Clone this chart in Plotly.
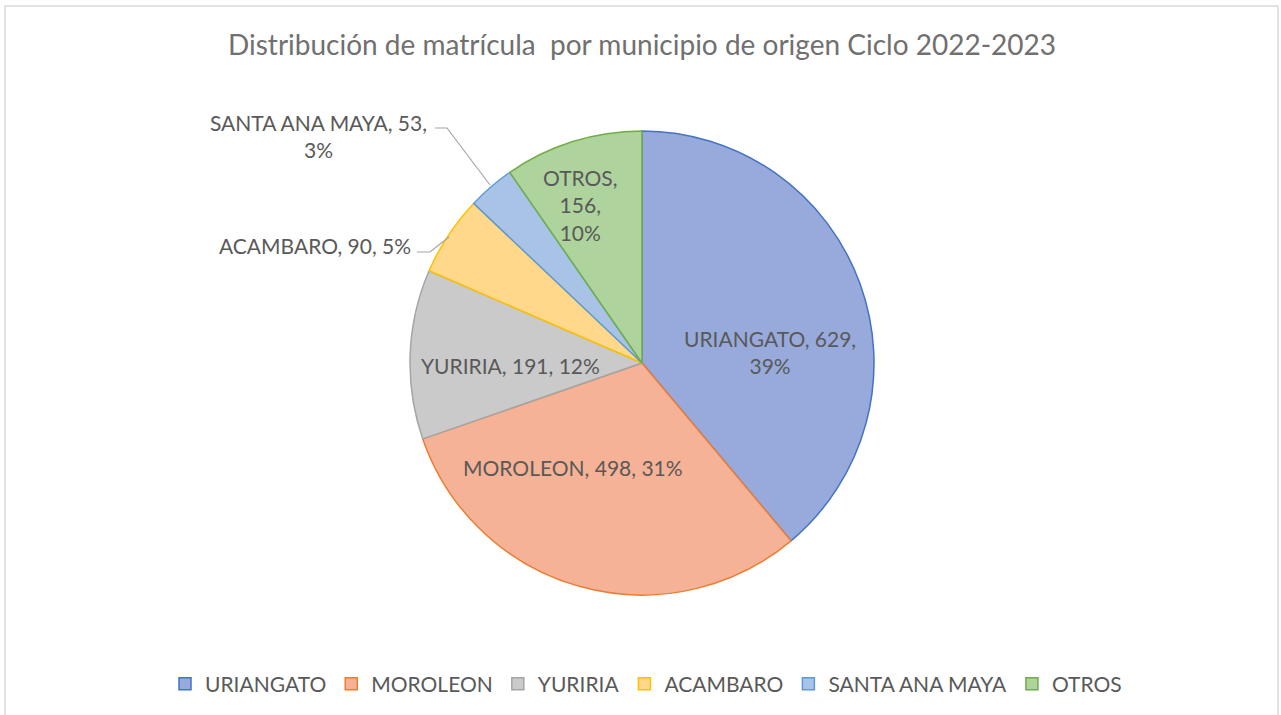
import plotly.graph_objects as go

# ── Data ──────────────────────────────────────────────────────────────────────
municipios = ["URIANGATO", "MOROLEON", "YURIRIA", "ACAMBARO", "SANTA ANA MAYA", "OTROS"]
alumnos = [629, 498, 191, 90, 53, 156]
porcentajes = ["39%", "31%", "12%", "5%", "3%", "10%"]

FILL = ["#97AADB", "#F5B296", "#CACACA", "#FFD88C", "#A9C3E7", "#AED39D"]
EDGE = ["#4472C4", "#ED7D31", "#A5A5A5", "#FFC000", "#5B9BD5", "#70AD47"]
TXT = "#595959"
FONT = "Lato"

W, H = 1281, 715


def px(x):
    return x / W


def py(y):
    return 1 - y / H


# data label placement (screen px) and line breaks per slice
label_pos = [(770, 352), (573, 467), (510, 365), (315, 245), (318, 136), (580, 205)]
seps = [(", ", ",<br>"), (", ", ", "), (", ", ", "), (", ", ", "),
        (", ", ",<br>"), (",<br>", ",<br>")]

# ── Figure ────────────────────────────────────────────────────────────────────
cx, cy, r = 642, 363, 232
fig = go.Figure(go.Pie(
    labels=municipios,
    values=alumnos,
    textinfo="none",
    sort=False,
    direction="clockwise",
    rotation=0,
    marker=dict(colors=FILL, line=dict(color=EDGE, width=1.5)),
    domain=dict(x=[px(cx - r), px(cx + r)], y=[py(cy + r), py(cy - r)]),
    hovertemplate="%{label}: %{value}<extra></extra>",
))

for name, val, pct, s, (lx, ly) in zip(municipios, alumnos, porcentajes, seps, label_pos):
    fig.add_annotation(x=px(lx), y=py(ly), xref="paper", yref="paper",
                       text=f"{name}{s[0]}{val}{s[1]}{pct}",
                       showarrow=False, align="center",
                       xanchor="center", yanchor="middle",
                       font=dict(family=FONT, size=21, color=TXT))

# leader lines for the two outside labels
fig.add_shape(type="path", xref="paper", yref="paper",
              path=f"M {px(435)},{py(128)} L {px(447)},{py(128)} L {px(490)},{py(185)}",
              line=dict(color="#A6A6A6", width=1.2))
fig.add_shape(type="path", xref="paper", yref="paper",
              path=f"M {px(417)},{py(252)} L {px(430)},{py(252)} L {px(449)},{py(237)}",
              line=dict(color="#A6A6A6", width=1.2))

# chart frame
fig.add_shape(type="rect", xref="paper", yref="paper",
              x0=px(5), x1=px(1278), y0=py(720), y1=py(6),
              line=dict(color="#D9D9D9", width=1.5))

fig.update_layout(
    width=W, height=H,
    margin=dict(l=0, r=0, t=0, b=0),
    paper_bgcolor="white", plot_bgcolor="white",
    title=dict(text="Distribución de matrícula  por municipio de origen Ciclo 2022-2023",
               x=px(642), xanchor="center", y=py(45), yanchor="middle",
               font=dict(family=FONT, size=28, color="#707070")),
    legend=dict(orientation="h", x=px(646), xanchor="center", y=py(684), yanchor="middle",
                font=dict(family=FONT, size=21, color=TXT),
                itemwidth=30, traceorder="normal"),
    showlegend=True,
)

fig.write_html("out.html", config={"displayModeBar": False},
               post_script="document.body.style.margin = '0';")
